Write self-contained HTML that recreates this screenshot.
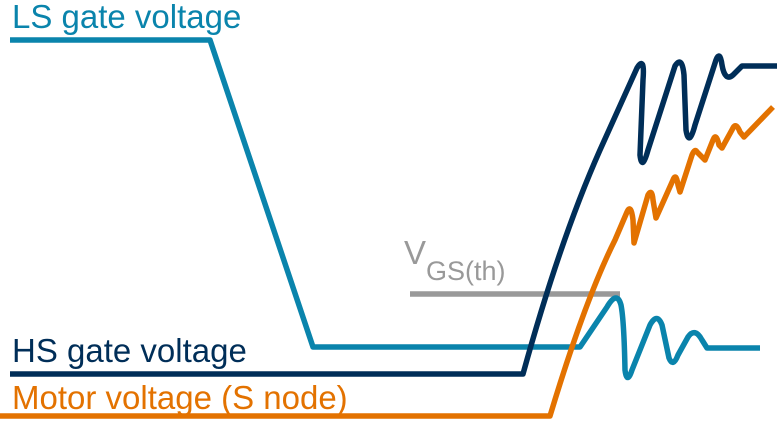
<!DOCTYPE html>
<html><head><meta charset="utf-8"><style>
html,body{margin:0;padding:0;background:#fff;width:777px;height:421px;overflow:hidden}
svg{display:block}
text{font-family:"Liberation Sans",sans-serif}
</style></head><body>
<svg width="777" height="421" viewBox="0 0 777 421" xmlns="http://www.w3.org/2000/svg">
<g fill="none" stroke-width="5.5" stroke-linejoin="round">
<path stroke="#999999" d="M410,294 H620"/>
<path stroke="#0a84ac" d="M10,40 H210 L313,347 H580 L607,307 Q617,290 621,305 Q624,320 625,370 Q627,385 632,370 L650,325 Q657,312 662,325 L669,358 Q673,368 678,355 L688,337 Q695,327 702,340 L707,348 H760"/>
<path stroke="#002e58" d="M10,374 H523 Q560,240 600,150 L637,68 Q645,55 643,80 L640,155 Q642,172 648,150 L675,66 Q682,55 684,75 L686,130 Q689,148 695,125 L716,60 Q720,50 722,65 Q725,82 733,75 L742,66 H777"/>
<path stroke="#e37200" d="M0,416 H550 Q585,300 615,240 L627,212 Q631,203 633,220 L634,243 L648,195 Q652,188 653,200 L656,218 L673,180 Q676,172 678,185 L680,192 L692,155 Q695,148 697,152 L705,160 L713,140 Q716,132 719,145 L722,148 L733,128 Q736,122 740,132 L744,137 L773,107"/>
</g>
<text x="12" y="28" font-size="33" fill="#0a84ac">LS gate voltage</text>
<text x="12" y="362" font-size="33" fill="#002e58">HS gate voltage</text>
<text x="12" y="409" font-size="33" fill="#e37200">Motor voltage (S node)</text>
<text x="404" y="264" font-size="33" fill="#999999">V<tspan font-size="27" dy="16">GS(th)</tspan></text>
</svg>
</body></html>
